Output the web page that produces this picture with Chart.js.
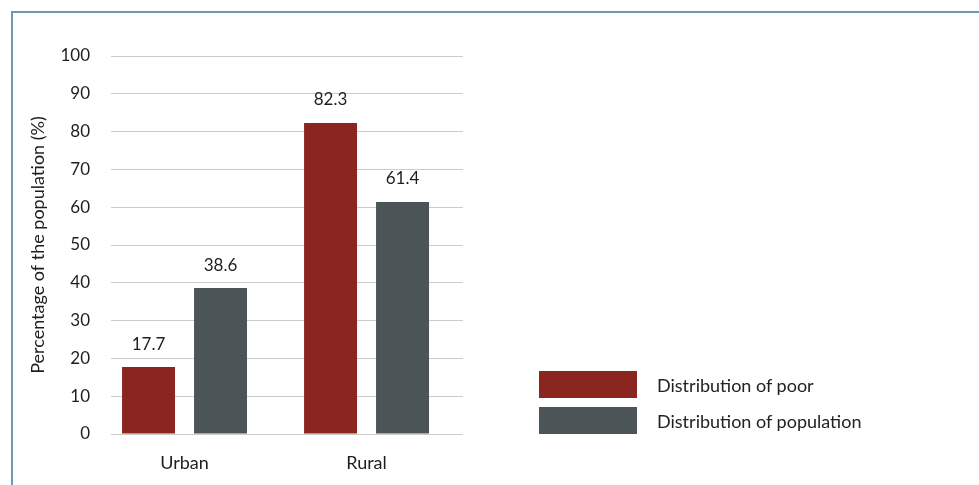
<!DOCTYPE html>
<html>
<head>
<meta charset="utf-8">
<script src="https://cdn.jsdelivr.net/npm/chart.js@4.4.1/dist/chart.umd.min.js"></script>
<style>
  html, body { margin: 0; padding: 0; background: #fff; }
  #wrap { position: relative; width: 979px; height: 485px; overflow: hidden; }
  #frame { position: absolute; left: 11px; top: 11px; right: 0; bottom: 0;
           border-top: 2px solid #6f96b3; border-left: 2px solid #6f96b3; }
  #chart { position: absolute; left: 0; top: 0; }
  #legend { position: absolute; left: 539px; top: 371px; font: 18px Lato, sans-serif; color: #222; }
  #legend .item { display: flex; align-items: center; height: 27px; margin-bottom: 9px; }
  #legend .box { width: 98px; height: 27px; margin-right: 20px; }
</style>
</head>
<body>
<div id="wrap">
  <div id="frame"></div>
  <canvas id="chart" width="979" height="485"></canvas>
  <div id="legend"></div>
</div>
<script>
const areas = ['Urban', 'Rural'];
const poorShare = [17.7, 82.3];
const populationShare = [38.6, 61.4];
const seriesNames = ['Distribution of poor', 'Distribution of population'];
const seriesColors = ['#8a2520', '#4b5557'];

Chart.defaults.font.family = 'Lato, sans-serif';
Chart.defaults.font.size = 17;
Chart.defaults.color = '#1e1e1e';

// bars sit on a numeric x axis (0 = Urban, 1 = Rural) so the groups can be placed off-centre
const toPoints = values => values.map((v, i) => ({ x: i, y: v }));

// value above each bar
const valueLabels = {
    id: 'valueLabels',
    afterDatasetsDraw(chart) {
        const ctx = chart.ctx;
        ctx.save();
        ctx.font = '17px Lato, sans-serif';
        ctx.fillStyle = '#1e1e1e';
        ctx.textAlign = 'center';
        ctx.textBaseline = 'middle';
        chart.data.datasets.forEach((ds, i) => {
            chart.getDatasetMeta(i).data.forEach((bar, j) => {
                ctx.fillText(ds.data[j].y.toFixed(1), bar.x, bar.y - 23);
            });
        });
        ctx.restore();
    }
};

const chart = new Chart(document.getElementById('chart'), {
    type: 'bar',
    data: {
        datasets: [{
            label: seriesNames[0],
            data: toPoints(poorShare),
            backgroundColor: seriesColors[0]
        }, {
            label: seriesNames[1],
            data: toPoints(populationShare),
            backgroundColor: seriesColors[1]
        }]
    },
    options: {
        responsive: false,
        animation: false,
        categoryPercentage: 0.791,
        barPercentage: 0.736,
        layout: {
            padding: { top: 56, right: 516, bottom: 0, left: 0 }
        },
        plugins: {
            legend: { display: false },
            tooltip: { enabled: false }
        },
        scales: {
            x: {
                type: 'linear',
                min: -0.404,
                max: 1.53,
                offset: false,
                grid: { display: false, drawTicks: false },
                border: { display: false },
                ticks: {
                    padding: 18,
                    font: { size: 18 },
                    callback: value => areas[value]
                },
                afterBuildTicks(scale) {
                    scale.ticks = areas.map((a, i) => ({ value: i }));
                },
                afterFit(scale) { scale.height = 51; }
            },
            y: {
                min: 0,
                max: 100,
                ticks: { stepSize: 10, padding: 21 },
                grid: { color: '#cccccc', drawTicks: false },
                border: { display: false },
                title: {
                    display: true,
                    text: 'Percentage of the population (%)',
                    font: { size: 18 },
                    padding: { top: 27, bottom: 14 }
                },
                afterFit(scale) { scale.width = 111; }
            }
        }
    },
    plugins: [valueLabels]
});

// legend drawn as html next to the plot
const legend = document.getElementById('legend');
chart.data.datasets.forEach(ds => {
    const item = document.createElement('div');
    item.className = 'item';
    const box = document.createElement('span');
    box.className = 'box';
    box.style.background = ds.backgroundColor;
    item.appendChild(box);
    item.appendChild(document.createTextNode(ds.label));
    legend.appendChild(item);
});
</script>
</body>
</html>
